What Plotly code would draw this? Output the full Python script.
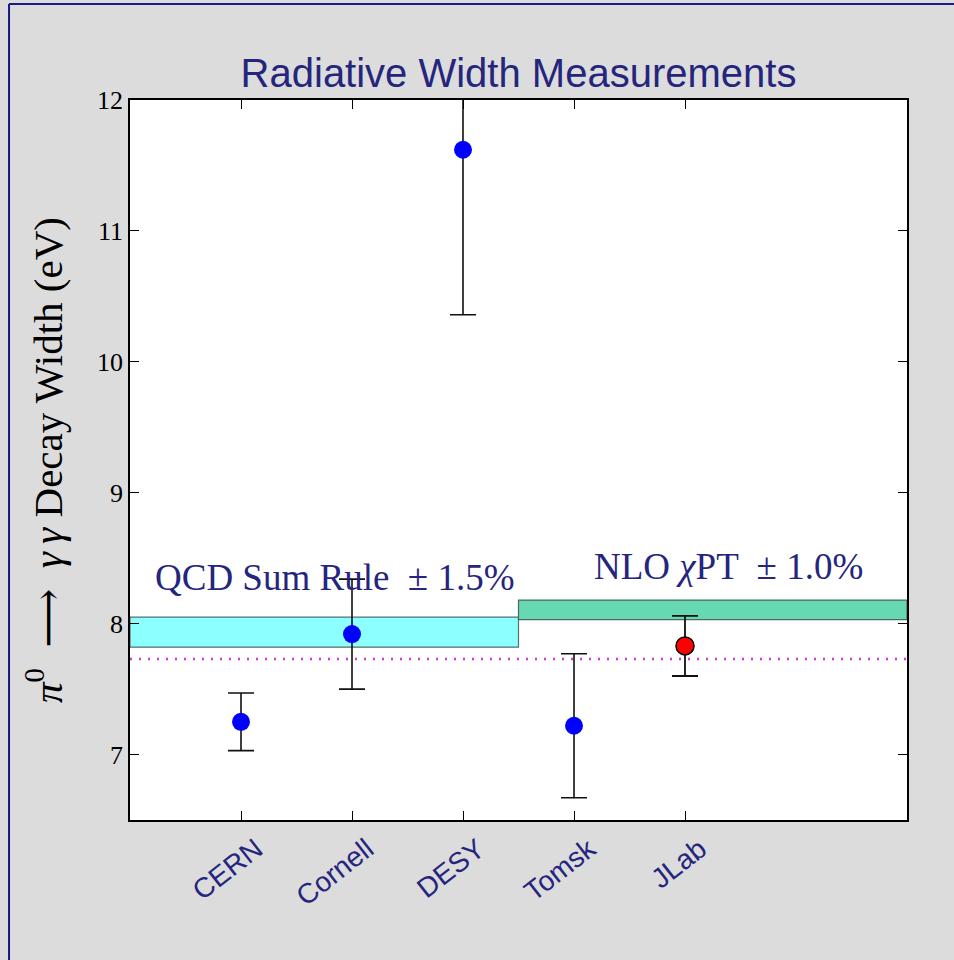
import plotly.graph_objects as go

# ---- data ----
labels = ["CERN", "Cornell", "DESY", "Tomsk", "JLab"]
positions = [1, 2, 3, 4, 5]
widths = [7.25, 7.92, 11.62, 7.22, 7.83]
errors = [0.22, 0.42, 1.26, 0.55, 0.23]

qcd_x = [0.0, 3.5]
qcd_lo, qcd_hi = 7.82, 8.05
nlo_x = [3.5, 7.0]
nlo_lo, nlo_hi = 8.03, 8.18
ref_line = 7.73

y_ticks = [7, 8, 9, 10, 11, 12]

NAVY = "#25257d"
SERIF = "Liberation Serif, serif"
SANS = "Liberation Sans, Arial, sans-serif"

fig = go.Figure()

# QCD band
fig.add_trace(go.Scatter(
    x=[qcd_x[0], qcd_x[1], qcd_x[1], qcd_x[0], qcd_x[0]],
    y=[qcd_lo, qcd_lo, qcd_hi, qcd_hi, qcd_lo],
    fill="toself", fillcolor="#8cffff", mode="lines",
    line=dict(color="#5a6e6e", width=1.2), hoverinfo="skip", showlegend=False))
# NLO band
fig.add_trace(go.Scatter(
    x=[nlo_x[0], nlo_x[1], nlo_x[1], nlo_x[0], nlo_x[0]],
    y=[nlo_lo, nlo_lo, nlo_hi, nlo_hi, nlo_lo],
    fill="toself", fillcolor="#66d9b3", mode="lines",
    line=dict(color="#4a6a5e", width=1.2), hoverinfo="skip", showlegend=False))
# reference dotted line
fig.add_trace(go.Scatter(
    x=[qcd_x[0], nlo_x[1]], y=[ref_line, ref_line], mode="lines",
    line=dict(color="#dd33dd", width=2.5, dash="2px,7px"), hoverinfo="skip", showlegend=False))

# blue measurements
fig.add_trace(go.Scatter(
    x=positions[:4], y=widths[:4], mode="markers",
    marker=dict(color="#0000ff", size=18, line=dict(width=0)),
    error_y=dict(type="data", array=errors[:4], color="#111111", thickness=1.6, width=13),
    showlegend=False))
# JLab
fig.add_trace(go.Scatter(
    x=positions[4:], y=widths[4:], mode="markers",
    marker=dict(color="#ff0000", size=18, line=dict(width=1.5, color="#000000")),
    error_y=dict(type="data", array=errors[4:], color="#111111", thickness=1.8, width=13),
    showlegend=False))

fig.add_annotation(x=1.85, y=8.35, xref="x", yref="y", showarrow=False,
                   text="QCD Sum Rule  \u00b1 1.5%",
                   font=dict(family=SERIF, size=37, color=NAVY))
fig.add_annotation(x=5.39, y=8.44, xref="x", yref="y", showarrow=False,
                   text="NLO <i>\u03c7</i>PT  \u00b1 1.0%",
                   font=dict(family=SERIF, size=37, color=NAVY))

# figure border lines (top and left)
fig.add_shape(type="line", xref="paper", yref="paper", x0=-0.1557, x1=1.1, y0=1.1333, y1=1.1333,
              line=dict(color="#1a1a80", width=2))
fig.add_shape(type="line", xref="paper", yref="paper", x0=-0.1557, x1=-0.1557, y0=-0.2, y1=1.1333,
              line=dict(color="#1a1a80", width=2))

ytitle = ("<i>\u03c0</i><sup>0</sup>\u2002"
          "<span style='font-family:DejaVu Serif'>\u27f6</span>\u2002"
          "<i>\u03b3\u2009\u03b3</i> Decay Width (eV)")

fig.update_layout(
    width=954, height=960,
    margin=dict(l=130, r=47, t=100, b=140),
    paper_bgcolor="#dcdcdc", plot_bgcolor="#ffffff",
    title=dict(text="Radiative Width Measurements", x=0.5, xref="paper", xanchor="center",
               y=1 - 73 / 960, yanchor="middle",
               font=dict(family=SANS, size=40, color=NAVY)),
    xaxis=dict(range=[0, 7], tickvals=positions, ticktext=labels, tickangle=-38,
               ticks="inside", ticklen=9, tickcolor="#000000", tickwidth=1,
               showline=True, linecolor="#000000", linewidth=1.5, mirror="ticks",
               showgrid=False, zeroline=False, ticklabelshift=15,
               tickfont=dict(family=SANS, size=28, color=NAVY)),
    yaxis=dict(range=[6.5, 12], tickvals=y_ticks,
               ticks="inside", ticklen=9, tickcolor="#000000", tickwidth=1,
               showline=True, linecolor="#000000", linewidth=1.5, mirror="ticks",
               showgrid=False, zeroline=False,
               tickfont=dict(family=SERIF, size=26, color="#000000"),
               title=dict(text=ytitle,
                          font=dict(family=SERIF, size=41, color="#000000"),
                          standoff=22)),
)

fig.write_html("out.html")
